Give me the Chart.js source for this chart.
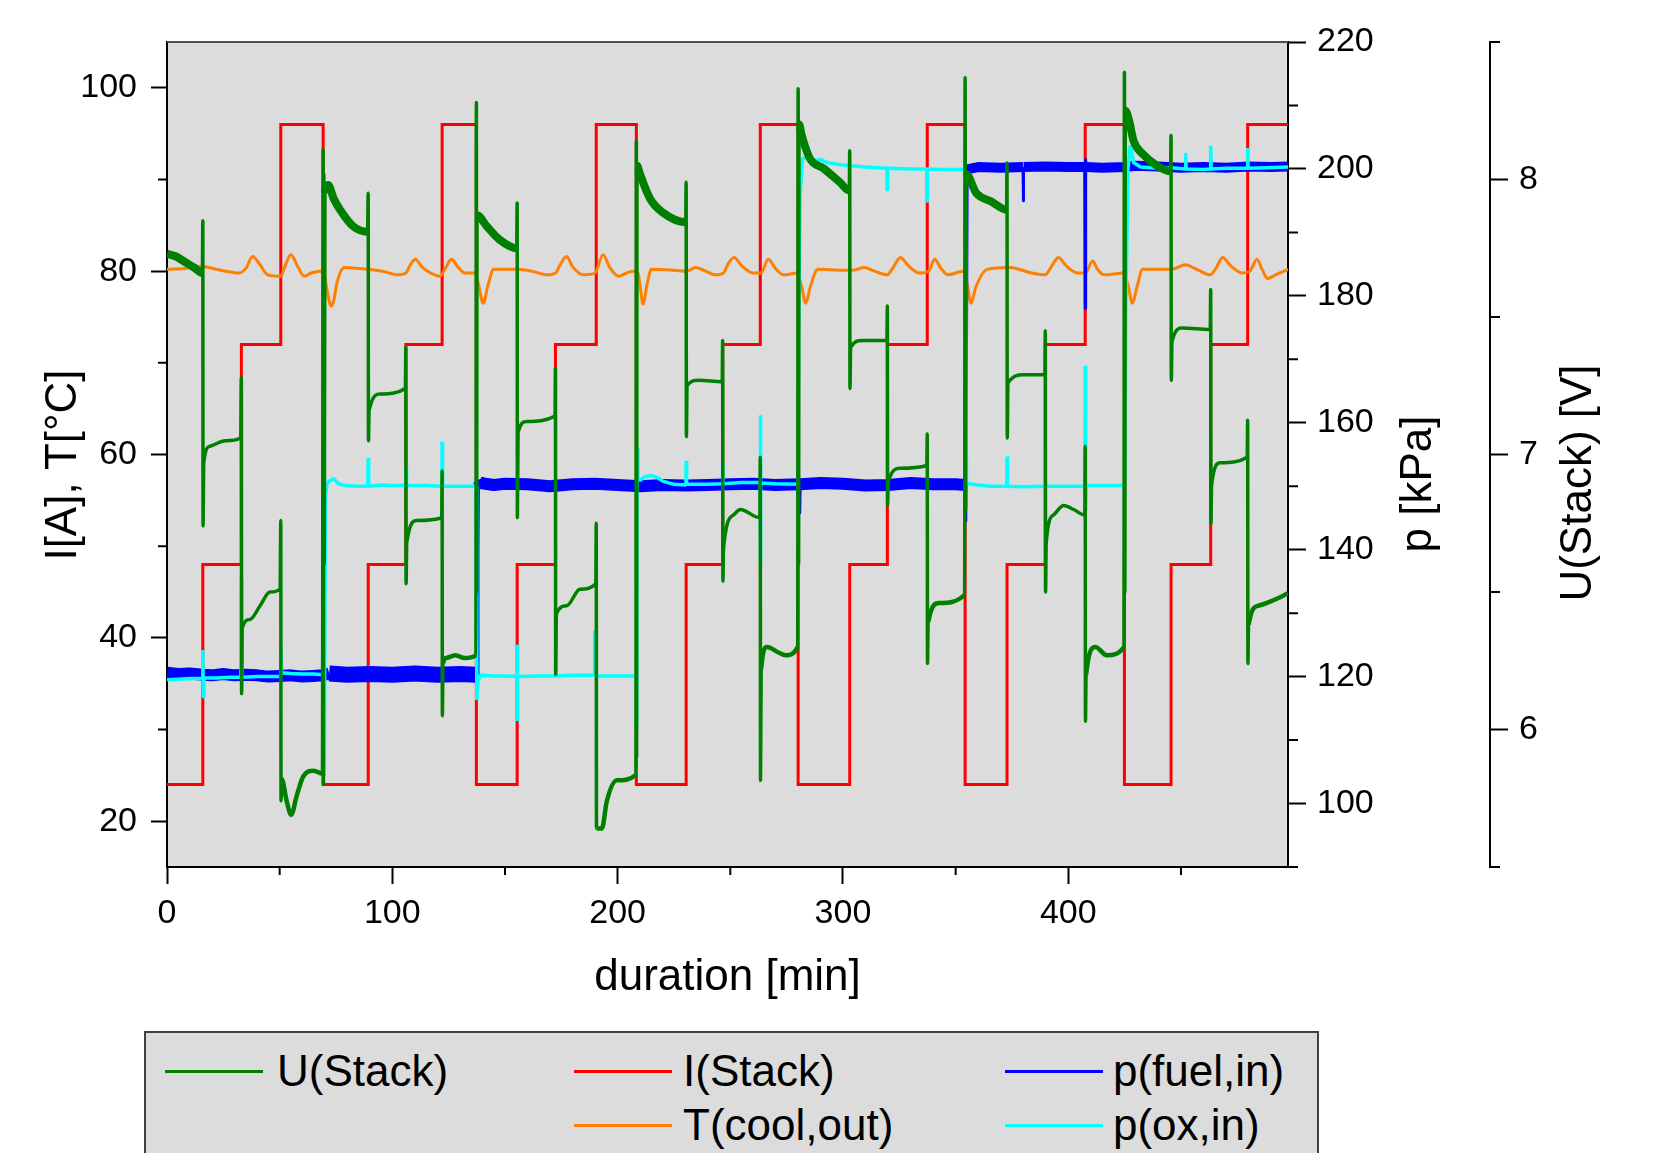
<!DOCTYPE html>
<html>
<head>
<meta charset="utf-8">
<title>Stack load cycles</title>
<script src="https://cdn.jsdelivr.net/npm/chart.js@4.4.1/dist/chart.umd.min.js"></script>
<style>
  html, body { margin: 0; padding: 0; background: #fff; overflow: hidden; }
  #wrap { position: relative; width: 1658px; height: 1153px; font-family: "Liberation Sans", Arial, sans-serif; }
  #chart { position: absolute; left: 0; top: 0; }
  #legend { position: absolute; left: 144px; top: 1031px; width: 1171px; height: 170px; background: #dcdcdc; border: 2px solid #404040; }
  .sw { position: absolute; height: 3px; width: 98px; }
  .lb { position: absolute; font-size: 44px; line-height: 50px; color: #000; white-space: nowrap; }
</style>
</head>
<body>
<div id="wrap">
  <canvas id="chart" width="1658" height="1153"></canvas>
  <div id="legend"></div>
  <div class="sw" style="left:165px;top:1070px;background:#008000"></div>
  <div class="lb" style="left:277px;top:1046px">U(Stack)</div>
  <div class="sw" style="left:574px;top:1070px;background:#ff0000"></div>
  <div class="lb" style="left:683px;top:1046px">I(Stack)</div>
  <div class="sw" style="left:1005px;top:1070px;background:#0000ff"></div>
  <div class="lb" style="left:1113px;top:1046px">p(fuel,in)</div>
  <div class="sw" style="left:574px;top:1124px;background:#ff8000"></div>
  <div class="lb" style="left:683px;top:1100px">T(cool,out)</div>
  <div class="sw" style="left:1005px;top:1124px;background:#00ffff"></div>
  <div class="lb" style="left:1113px;top:1100px">p(ox,in)</div>
</div>
<script>
const minutesMax = 497.5;

// I(Stack): level held from each time until the next one
const iTimes = [0, 15.9, 33, 50.5, 69.3, 89.3, 106, 122.1, 137.3, 155.4, 172.4, 190.5, 208.3, 230.4, 246.6, 263.3,
  280.1, 303, 319.7, 337.4, 354.2, 372.8, 389.8, 407.5, 424.9, 445.6, 463.2, 479.6, 497.5];
const iLevels = [24, 48, 72, 96, 24, 48, 72, 96, 24, 48, 72, 96, 24, 48, 72, 96,
  24, 48, 72, 96, 24, 48, 72, 96, 24, 48, 72, 96, 96];

// U(Stack) [V]
const uStack = [
  [0, 7.73], [4, 7.72], [8, 7.70], [12, 7.68], [15.7, 7.66],
  [15.9, 7.85], [16.0, 6.74], [16.3, 6.97], [19, 7.03], [26, 7.05], [32.7, 7.06],
  [33.0, 7.28], [33.1, 6.13], [33.4, 6.37], [36.8, 6.40], [41.3, 6.45], [45.7, 6.50], [50.2, 6.51],
  [50.5, 6.76], [50.6, 5.74], [50.9, 5.82], [53.1, 5.74], [55.1, 5.69], [57.6, 5.76], [60.5, 5.83], [65, 5.85], [69.0, 5.84],
  [69.3, 8.11], [69.4, 5.80], [69.6, 8.02], [69.8, 6.60], [70.1, 7.95], [71.5, 7.98], [74, 7.93], [76.8, 7.89], [82.6, 7.83], [89.0, 7.81],
  [89.3, 7.95], [89.4, 7.05], [89.7, 7.16], [94.5, 7.22], [105.8, 7.24],
  [106.0, 7.39], [106.1, 6.53], [106.4, 6.68], [110.8, 6.76], [121.9, 6.77],
  [122.1, 6.94], [122.2, 6.05], [122.5, 6.24], [124, 6.26], [128, 6.27], [132, 6.26], [137.1, 6.27],
  [137.3, 8.28], [137.4, 6.50], [137.6, 7.87], [141.9, 7.83], [147.8, 7.78], [155.2, 7.75],
  [155.4, 7.915], [155.5, 6.77], [155.8, 7.08], [159.6, 7.12], [172.2, 7.14],
  [172.4, 7.315], [172.5, 6.20], [172.8, 6.42], [177.4, 6.45], [183.3, 6.51], [190.3, 6.53],
  [190.5, 6.75], [190.6, 5.64], [193, 5.64], [195.2, 5.74], [199.5, 5.815], [208.1, 5.835],
  [208.3, 8.14], [208.4, 5.90], [208.6, 8.05], [209.9, 8.02], [214.4, 7.93], [220, 7.88], [230.2, 7.845],
  [230.4, 7.99], [230.5, 7.065], [230.8, 7.25], [236, 7.27], [246.4, 7.265],
  [246.6, 7.415], [246.7, 6.54], [247.0, 6.66], [251.4, 6.78], [254.4, 6.80], [263.1, 6.77],
  [263.3, 6.99], [263.4, 5.815], [263.7, 6.22], [266.2, 6.30], [271.4, 6.28], [274.5, 6.27], [279.9, 6.30],
  [280.1, 8.33], [280.3, 6.60], [280.5, 8.20], [281.7, 8.16], [285.4, 8.075], [291.4, 8.04], [298.6, 7.99], [302.8, 7.96],
  [303.0, 8.105], [303.1, 7.24], [303.4, 7.39], [309, 7.415], [319.5, 7.415],
  [319.7, 7.54], [319.8, 6.815], [320.1, 6.90], [325.3, 6.95], [337.2, 6.96],
  [337.4, 7.075], [337.5, 6.24], [337.8, 6.39], [342.7, 6.46], [354.0, 6.49],
  [354.2, 8.37], [354.4, 6.80], [354.6, 8.02], [359.2, 7.95], [365.8, 7.92], [372.6, 7.89],
  [372.8, 8.06], [372.9, 7.06], [373.2, 7.26], [380.2, 7.29], [389.6, 7.29],
  [389.8, 7.45], [389.9, 6.50], [390.2, 6.68], [393.4, 6.78], [397.9, 6.815], [402.4, 6.80], [407.3, 6.78],
  [407.5, 7.03], [407.6, 6.03], [407.9, 6.20], [412, 6.30], [417.1, 6.27], [424.7, 6.30],
  [424.9, 8.39], [425.1, 6.50], [425.3, 8.25], [426.8, 8.22], [429, 8.14], [433.4, 8.09], [439.4, 8.05], [445.4, 8.03],
  [445.6, 8.16], [445.7, 7.27], [446.0, 7.41], [450.5, 7.46], [463.0, 7.455],
  [463.2, 7.60], [463.3, 6.75], [463.6, 6.89], [467.4, 6.97], [479.4, 6.99],
  [479.6, 7.125], [479.7, 6.24], [480.0, 6.38], [484.3, 6.45], [491, 6.47], [497.5, 6.495]
];

// T(cool,out) [°C]
const tCool = [
  [0, 80.2], [8, 80.3], [15.9, 80.5], [22, 80.2], [26, 80.0], [32, 79.8], [35, 80.3], [38, 81.6], [41, 80.8], [44.7, 79.6],
  [50.5, 79.45], [52, 80.3], [55, 81.8], [58, 80.5], [60.9, 79.45], [64, 79.8], [67.8, 80.0], [69.5, 79.9], [71, 78.0],
  [72.8, 76.2], [74, 76.8], [75.4, 78.7], [78.7, 80.4], [85, 80.3], [89, 80.2], [95.7, 80.0], [102.5, 79.6], [106, 79.8],
  [108, 80.7], [110.2, 81.3], [113, 80.5], [117, 79.8], [121.2, 79.45], [123.5, 80.3], [126.3, 81.3], [129, 80.5],
  [132.3, 79.8], [136.6, 79.8], [138.3, 78.5], [140.3, 76.5], [142.5, 78.5], [145, 80.2], [155.2, 80.2], [162, 80.0],
  [168.8, 79.6], [172.4, 79.8], [174.5, 80.7], [177.3, 81.6], [180, 80.5], [184.8, 79.6], [190, 79.8], [193.5, 81.8],
  [196.5, 80.4], [200.5, 79.45], [204, 79.8], [207, 80.0], [209, 79.8], [210, 78.3], [211.3, 76.4], [213, 78.5],
  [215, 80.2], [225, 80.1], [231, 80.0], [234.5, 80.4], [239, 80.0], [243.3, 79.6], [247, 79.8], [249, 80.8],
  [251.7, 81.5], [255, 80.6], [260, 79.8], [263.7, 79.8], [266.8, 81.3], [270, 80.3], [273.7, 79.6], [279.6, 79.8],
  [281.5, 78.5], [283.5, 76.5], [285.5, 78.3], [288.9, 80.2], [300, 80.1], [304.3, 80.1], [309.4, 80.4], [314, 80.0],
  [319.6, 79.6], [322, 80.3], [325.5, 81.5], [329, 80.6], [334, 79.8], [338, 80.0], [340.7, 81.3], [343.5, 80.3],
  [346.6, 79.6], [353.3, 80.0], [355, 78.8], [356.8, 76.5], [359, 78.3], [364, 80.2], [374, 80.4], [383.8, 79.8],
  [389.7, 79.6], [392.5, 80.5], [395.6, 81.5], [399, 80.6], [404.1, 79.8], [407.5, 79.8], [410.8, 81.1], [413, 80.2],
  [415.9, 79.6], [424.4, 79.8], [426.5, 78.5], [428.5, 76.5], [430.5, 78.3], [433, 80.2], [445.8, 80.2], [452, 80.7],
  [457, 80.2], [463, 79.6], [465.5, 80.3], [468.5, 81.5], [472, 80.6], [477.4, 79.8], [480.6, 80.0], [483.7, 81.3],
  [486, 80.2], [488.5, 79.2], [492, 79.6], [497.5, 80.2]
];

// p(fuel,in) [kPa]
const pFuel = [
  [0, 120.6], [5, 120.4], [10, 120.5], [15.9, 120.3], [20, 120.2], [25, 120.4], [30, 120.2], [35, 120.3], [40, 120.2],
  [45, 120.0], [50, 120.1], [55, 120.2], [60, 120.0], [65, 120.1], [69, 120.2], [72, 120.5], [80, 120.3], [90, 120.4],
  [100, 120.3], [110, 120.5], [120, 120.3], [130, 120.4], [137.8, 120.3], [138.0, 139.5], [138.2, 151.0], [139, 150.5],
  [145, 150.2], [150, 150.4], [160, 150.3], [170, 150.0], [180, 150.3], [190, 150.4], [200, 150.2], [210, 150.0],
  [220, 150.2], [230, 150.1], [240, 150.2], [250, 150.3], [260, 150.4], [270, 150.2], [280.6, 150.3], [280.8, 145.8],
  [281.0, 150.3], [290, 150.5], [300, 150.4], [310, 150.1], [320, 150.2], [330, 150.5], [340, 150.3], [350, 150.3],
  [354.3, 150.2], [354.5, 144.5], [354.8, 170.0], [355.1, 199.8], [356, 200.0], [360, 200.3], [370, 200.2],
  [379.9, 200.3], [380.0, 195.0], [380.2, 200.3], [390, 200.4], [400, 200.3], [407.3, 200.3], [407.5, 178.0],
  [407.6, 201.5], [407.8, 200.3], [415, 200.2], [425, 200.3], [430, 200.5], [440, 200.4], [450, 200.2], [460, 200.3],
  [470, 200.2], [480, 200.4], [490, 200.3], [497.5, 200.4]
];

// p(ox,in) [kPa]
const pOx = [
  [0, 119.5], [5, 119.6], [10, 119.7], [15.7, 119.7], [15.9, 124.2], [16.1, 116.8], [16.4, 119.8], [22, 119.8],
  [28, 119.9], [32.8, 119.9], [33.0, 135.5], [33.2, 119.9], [40, 120.0], [45, 120.0], [50.3, 120.0], [50.5, 125.0],
  [50.8, 120.6], [55, 120.5], [60, 120.4], [65, 120.4], [69.2, 120.3], [69.4, 104.3], [69.8, 104.5], [70.3, 148.0],
  [71, 150.5], [72.5, 150.9], [74, 151.2], [76, 150.4], [79, 150.1], [85, 150.0], [89.1, 150.0], [89.3, 154.5],
  [89.5, 150.0], [95, 150.2], [100, 150.1], [105.9, 150.1], [106.1, 153.0], [106.3, 150.1], [115, 150.1],
  [122.0, 150.0], [122.1, 157.0], [122.3, 150.0], [130, 150.0], [137.2, 150.0], [137.5, 116.3], [138, 119.2],
  [139, 120.2], [145, 120.1], [150, 120.1], [155.3, 120.0], [155.4, 125.0], [155.5, 113.0], [155.7, 120.0],
  [165, 120.1], [172.3, 120.1], [172.4, 130.8], [172.6, 120.1], [180, 120.2], [189.7, 120.2], [189.8, 127.3],
  [190.0, 120.1], [200, 120.1], [208.2, 120.1], [208.4, 112.0], [208.6, 156.0], [209, 151.5], [210, 150.9],
  [212, 151.5], [215, 151.7], [218, 151.3], [220, 150.8], [225, 150.3], [230.3, 150.2], [230.4, 154.0],
  [230.6, 150.3], [240, 150.3], [246.5, 150.4], [246.6, 153.5], [246.8, 150.4], [255, 150.6], [263.2, 150.6],
  [263.3, 161.2], [263.4, 137.8], [263.6, 150.5], [270, 150.4], [280.0, 150.3], [280.3, 175.0], [281, 196.0],
  [282, 201.6], [284, 201.8], [287, 201.2], [290, 201.5], [293, 201.0], [296, 200.8], [300, 200.6], [303, 200.5],
  [310, 200.3], [319.5, 200.1], [319.6, 196.7], [319.8, 200.1], [330, 200.0], [337.2, 200.0], [337.3, 194.9],
  [337.5, 200.0], [345, 199.9], [354.1, 199.9], [354.3, 199.0], [354.8, 150.5], [356, 150.4], [360, 150.2],
  [365, 150.0], [372.7, 150.0], [372.8, 154.7], [373.0, 150.0], [380, 149.9], [390, 150.0], [400, 150.0],
  [407.4, 150.0], [407.5, 169.0], [407.7, 146.0], [408, 150.1], [415, 150.1], [424.8, 150.1], [425.0, 150.0],
  [425.5, 178.0], [426.5, 200.0], [427.5, 203.7], [429, 201.0], [432, 200.3], [440, 200.1], [445.5, 200.2],
  [452, 200.0], [452.1, 202.5], [452.3, 200.0], [460, 199.9], [463.1, 200.0], [463.2, 203.7], [463.4, 200.0],
  [470, 200.1], [479.5, 200.1], [479.6, 203.3], [479.8, 200.1], [488, 200.2], [497.5, 200.3]
];

// tick values
const xTicks = [0, 100, 200, 300, 400];
const xMinor = [50, 150, 250, 350, 450];
const leftTicks = [20, 40, 60, 80, 100];
const leftMinor = [30, 50, 70, 90];
const pTicks = [100, 120, 140, 160, 180, 200, 220];
const pMinor = [90, 110, 130, 150, 170, 190, 210];
const uTicks = [6, 7, 8];
const uMinor = [5.5, 6.5, 7.5, 8.5];

const FONT = '"Liberation Sans", Arial, sans-serif';
Chart.defaults.font.family = FONT;
Chart.defaults.color = '#000';

const toXY = arr => arr.map(([x, y]) => ({ x, y }));
const levelAt = t => {
  let v = iLevels[0];
  for (let i = 0; i < iTimes.length; i++) if (iTimes[i] <= t) v = iLevels[i];
  return v;
};
// noisy signals look thicker
const greenWidth = c => {
  if (c.p1.parsed.x - c.p0.parsed.x < 0.45) return 3.5;
  const l = levelAt(c.p0.parsed.x);
  return l === 24 ? 8 : (l === 96 ? 4.5 : 3.5);
};
const bandWidth = t => (t > 69 && t < 138) ? 16 : (t > 355 ? 10 : 12);

function axis(position, min, max, ticks, tickLen, pad, width) {
  return {
    type: 'linear', position, min, max,
    afterBuildTicks: s => { s.ticks = ticks.map(v => ({ value: v })); },
    afterFit: s => { s.width = width; },
    ticks: { font: { size: 34 }, color: '#000', padding: pad, callback: v => String(v) },
    grid: { display: true, drawOnChartArea: false, drawTicks: true, tickLength: tickLen, tickWidth: 2, tickColor: '#000' },
    border: { display: true, color: '#000', width: 2 }
  };
}

const frame = {
  id: 'frame',
  beforeDraw(chart) {
    const { ctx, chartArea: a } = chart;
    ctx.save();
    ctx.fillStyle = '#dcdcdc';
    ctx.fillRect(a.left, a.top, a.width, a.height);
    ctx.restore();
  },
  afterDraw(chart) {
    const { ctx, chartArea: a, scales: s } = chart;
    ctx.save();
    ctx.strokeStyle = '#4d4d4d';
    ctx.lineWidth = 2;
    ctx.beginPath();
    ctx.moveTo(a.left, a.top);
    ctx.lineTo(a.right, a.top);
    ctx.stroke();

    // minor ticks
    ctx.strokeStyle = '#000';
    ctx.beginPath();
    xMinor.forEach(v => { const px = s.x.getPixelForValue(v); ctx.moveTo(px, a.bottom); ctx.lineTo(px, a.bottom + 8); });
    leftMinor.forEach(v => { const py = s.y.getPixelForValue(v); ctx.moveTo(a.left, py); ctx.lineTo(a.left - 9, py); });
    pMinor.forEach(v => { const py = s.yP.getPixelForValue(v); ctx.moveTo(a.right, py); ctx.lineTo(a.right + 10, py); });
    uMinor.forEach(v => { const py = s.yU.getPixelForValue(v); ctx.moveTo(s.yU.left, py); ctx.lineTo(s.yU.left + 10, py); });
    ctx.stroke();

    // axis titles
    ctx.fillStyle = '#000';
    ctx.font = '44px ' + FONT;
    ctx.textAlign = 'center';
    ctx.textBaseline = 'middle';
    ctx.fillText('duration [min]', (a.left + a.right) / 2, a.bottom + 111);
    const vTitle = (text, x, y) => {
      ctx.save();
      ctx.translate(x, y);
      ctx.rotate(-Math.PI / 2);
      ctx.fillText(text, 0, 0);
      ctx.restore();
    };
    vTitle('I[A], T[°C]', 64, 465);
    vTitle('p [kPa]', s.yP.left + 131, 484);
    vTitle('U(Stack) [V]', s.yU.left + 89, 483);
    ctx.restore();
  }
};

new Chart(document.getElementById('chart'), {
  type: 'line',
  data: {
    datasets: [
      {
        label: 'U(Stack)', data: toXY(uStack), yAxisID: 'yU',
        borderColor: '#008000', borderWidth: 3.5, borderJoinStyle: 'bevel',
        cubicInterpolationMode: 'monotone',
        segment: { borderWidth: greenWidth }
      },
      {
        label: 'p(ox,in)', data: toXY(pOx), yAxisID: 'yP',
        borderColor: '#00ffff', borderWidth: 3.5, borderJoinStyle: 'bevel'
      },
      {
        label: 'p(fuel,in)', data: toXY(pFuel), yAxisID: 'yP',
        borderColor: '#0000ff', borderWidth: 12, borderJoinStyle: 'round',
        segment: { borderWidth: c => (c.p1.parsed.x - c.p0.parsed.x < 0.45) ? 3 : bandWidth(c.p0.parsed.x) }
      },
      {
        label: 'T(cool,out)', data: toXY(tCool), yAxisID: 'y',
        borderColor: '#ff8000', borderWidth: 3, cubicInterpolationMode: 'monotone'
      },
      {
        label: 'I(Stack)', data: iTimes.map((t, i) => ({ x: t, y: iLevels[i] })), yAxisID: 'y',
        borderColor: '#ff0000', borderWidth: 3, stepped: 'before'
      }
    ]
  },
  options: {
    responsive: false,
    animation: false,
    devicePixelRatio: 1,
    parsing: false,
    normalized: true,
    layout: { padding: { top: 42, left: 0, right: 0, bottom: 0 } },
    elements: { point: { radius: 0, hoverRadius: 0 }, line: { tension: 0 } },
    datasets: { line: { clip: 0, fill: false } },
    plugins: { legend: { display: false }, tooltip: { enabled: false } },
    events: [],
    scales: {
      x: {
        type: 'linear', position: 'bottom', min: 0, max: minutesMax,
        afterBuildTicks: s => { s.ticks = xTicks.map(v => ({ value: v })); },
        afterFit: s => { s.height = 286; },
        ticks: { font: { size: 34 }, color: '#000', padding: 9, maxRotation: 0, autoSkip: false, callback: v => String(v) },
        grid: { display: true, drawOnChartArea: false, drawTicks: true, tickLength: 17, tickWidth: 2, tickColor: '#000' },
        border: { display: true, color: '#000', width: 2 }
      },
      y: axis('left', 15, 105, leftTicks, 16, 14, 167),
      yP: Object.assign(axis('right', 90, 220, pTicks, 18, 11, 202), { weight: 0 }),
      yU: Object.assign(axis('right', 5.5, 8.5, uTicks, 18, 11, 168), { weight: 1 })
    }
  },
  plugins: [frame]
});
</script>
</body>
</html>
